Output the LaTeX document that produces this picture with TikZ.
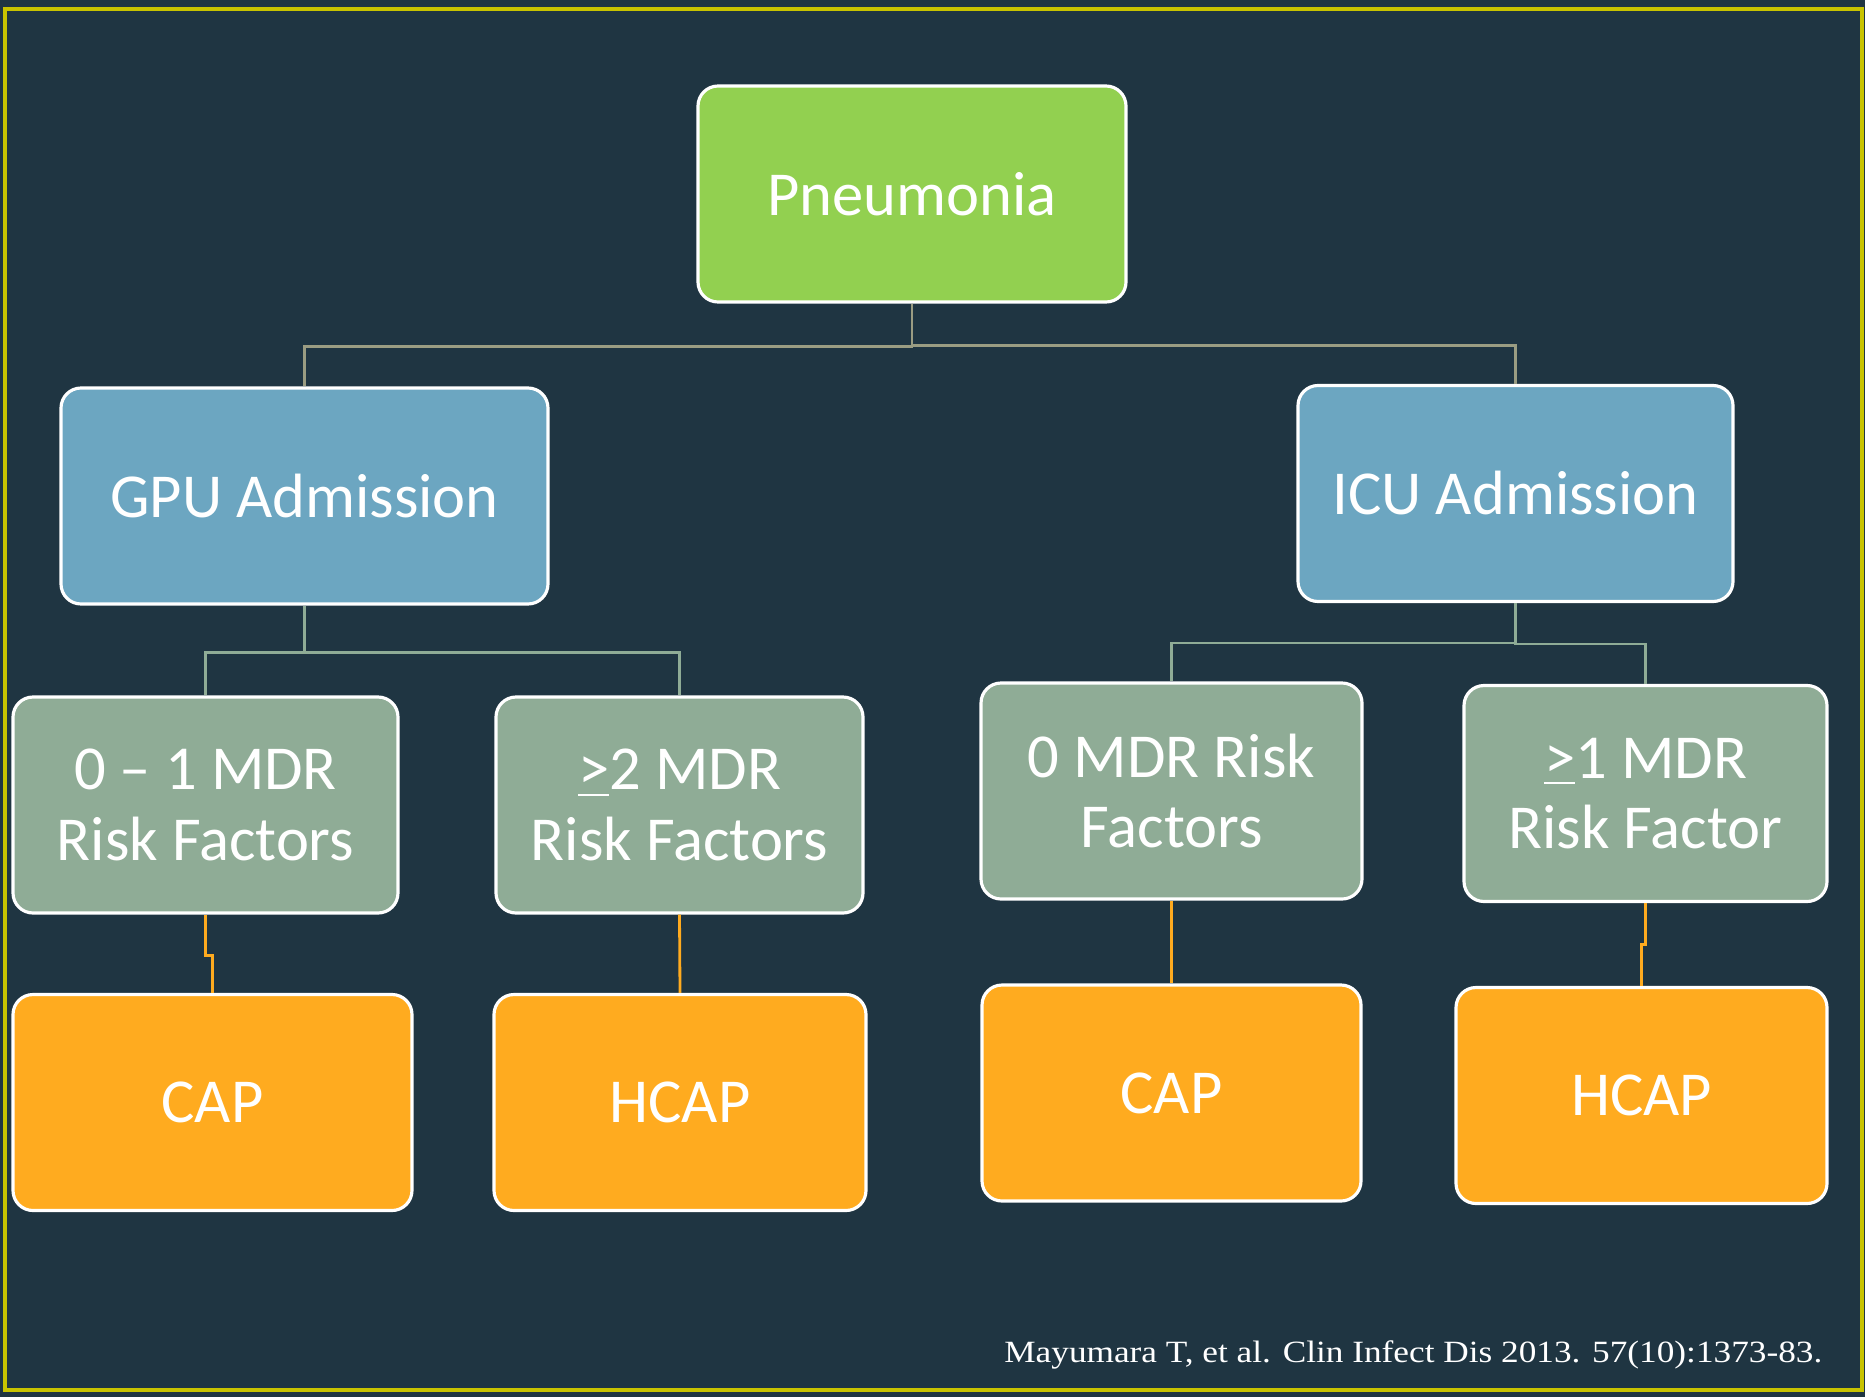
\documentclass[tikz,border=0pt]{standalone}
\usepackage{fontspec}
\setmainfont{Carlito}
\newfontfamily\citefont{Liberation Serif}
\usepackage{graphicx}
\usepackage{tikz}
\usepackage{xcolor}
\definecolor{bg}{HTML}{1F3542}
\definecolor{frame}{HTML}{C8C300}
\definecolor{pgreen}{HTML}{92D050}
\definecolor{pblue}{HTML}{6CA6C1}
\definecolor{psage}{HTML}{8FAC96}
\definecolor{porange}{HTML}{FFAB1F}
\definecolor{ltan}{HTML}{9A9C82}

\begin{document}
\begin{tikzpicture}[main/.style = {draw=white, line width=0.9pt, rounded corners=0.2cm, inner sep=0pt,
    minimum height=2.16cm, align=center, text=white, font=\fontsize{17.8}{20}\selectfont},
  tree/.style = {line width=0.8pt}]
  % page and frame
  \fill[bg] (0,0) rectangle (18.65,-13.97);
  \draw[frame, line width=1pt] (0.05,-0.09) rectangle (18.62,-13.90);
  \useasboundingbox (0,0) rectangle (18.65,-13.97);

  \node[main, fill=pgreen, minimum width=4.28cm] (pn) at (9.12,-1.94) {Pneumonia};
  \node[main, fill=pblue, minimum width=4.87cm] (gpu) at (3.045,-4.96) {GPU Admission};
  \node[main, fill=pblue, minimum width=4.35cm] (icu) at (15.155,-4.935) {ICU Admission};
  \node[main, fill=psage, minimum width=3.85cm] (lo) at (2.055,-8.05) {0 -- 1 MDR\\Risk Factors};
  \node[main, fill=psage, minimum width=3.67cm] (hi) at (6.795,-8.05) {\underline{>}2 MDR\\Risk Factors};
  \node[main, fill=psage, minimum width=3.81cm] (zero) at (11.715,-7.91) {0 MDR Risk\\Factors};
  \node[main, fill=psage, minimum width=3.63cm] (one) at (16.455,-7.935) {\underline{>}1 MDR\\Risk Factor};
  \node[main, fill=porange, minimum width=3.99cm] (capl) at (2.125,-11.025) {CAP};
  \node[main, fill=porange, minimum width=3.72cm] (hcapl) at (6.80,-11.025) {HCAP};
  \node[main, fill=porange, minimum width=3.79cm] (capr) at (11.715,-10.93) {CAP};
  \node[main, fill=porange, minimum width=3.71cm] (hcapr) at (16.415,-10.955) {HCAP};

  \draw[tree, ltan] (pn.south) -- ++(0,-0.43) -| (gpu.north);
  \draw[tree, ltan] (pn.south) -- ++(0,-0.42) -| (icu.north);
  \draw[tree, psage] (gpu.south) -- ++(0,-0.47) -| (lo.north);
  \draw[tree, psage] (gpu.south) -- ++(0,-0.47) -| (hi.north);
  \draw[tree, psage] (icu.south) -- ++(0,-0.40) -| (zero.north);
  \draw[tree, psage] (icu.south) -- ++(0,-0.41) -| (one.north);
  \draw[tree, porange] (lo.south) -- ++(0,-0.41) -| (capl.north);
  \draw[tree, porange] (hi.south) -- (hcapl.north);
  \draw[tree, porange] (zero.south) -- (capr.north);
  \draw[tree, porange] (one.south) -- ++(0,-0.41) -| (hcapr.north);

  \node[anchor=base east, text=white, inner sep=0pt, font=\citefont\fontsize{8.8}{10}\selectfont] (cite) at (18.23,-13.62)
    {\scalebox{1.14}[1]{Mayumara T, et al. Clin Infect Dis 2013. 57(10):1373-83.}};
\end{tikzpicture}
\end{document}
